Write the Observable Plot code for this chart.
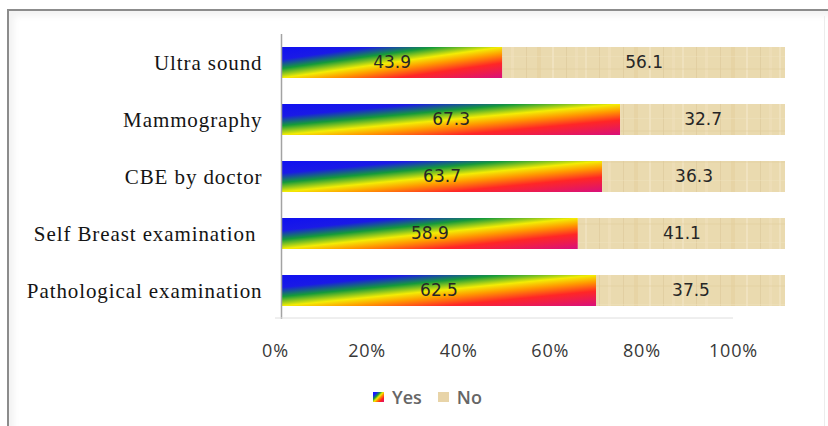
<!DOCTYPE html>
<html>
<head>
<meta charset="utf-8">
<script src="https://cdn.jsdelivr.net/npm/d3@7"></script>
<script src="https://cdn.jsdelivr.net/npm/@observablehq/plot@0.6"></script>
<style>
  body { margin: 0; background: #fff; }
  #chart { position: relative; width: 828px; height: 426px; overflow: hidden; background: #fff; }
  #chart > svg { position: absolute; left: 0; overflow: visible; }
  #main { top: 0; }
  #scale { top: 317px; }
  #main [aria-label="y-axis tick label"] text {
    font-family: "Liberation Serif", "Times New Roman", serif;
    font-size: 21px; letter-spacing: 0.9px; fill: #141414; white-space: pre;
  }
  #scale [aria-label="x-axis tick label"] text {
    font-family: "Open Sans", sans-serif; font-size: 18px; letter-spacing: 0.8px; fill: #383838;
  }
  .frame { position: absolute; left: 7px; top: 9px; width: 840px; height: 440px;
    border-left: 2px solid #8c8c8c; border-top: 2px solid #8c8c8c;
    box-shadow: inset 5px 5px 6px rgba(0,0,0,0.05); pointer-events: none; }
  .edge { position: absolute; left: 824px; top: 16px; width: 1px; height: 410px; background: #ececec; }
  .legend { position: absolute; top: 385px; left: 373px; display: flex; align-items: center;
    font: 600 18px "Open Sans", sans-serif; color: #666; }
  .legend span.sw { display: inline-block; width: 11px; height: 10px; margin-right: 8px; }
  .legend span.item { display: inline-flex; align-items: center; margin-right: 16px; }
</style>
</head>
<body>
<div id="chart">
  <div class="frame"></div>
  <div class="edge"></div>
  <div class="legend">
    <span class="item"><span class="sw" style="background:linear-gradient(135deg,#1a1aff 0%,#1a1aff 20%,#1a9a3a 36%,#f5ee00 50%,#ff8a00 62%,#ff2020 78%,#d8107a 100%)"></span>Yes</span>
    <span class="item"><span class="sw" style="background:#e8d4a8"></span>No</span>
  </div>
</div>
<script>
// Screening method uptake (% of respondents answering Yes / No)
const categories = ["Ultra sound", "Mammography", "CBE by doctor", "Self Breast examination ", "Pathological examination"];
const yes = [43.9, 67.3, 63.7, 58.9, 62.5];
const no = [56.1, 32.7, 36.3, 41.1, 37.5];
const answers = ["Yes", "No"];
const ticks = [0, 20, 40, 60, 80, 100];

const rows = categories.flatMap((category, i) => [
  {category, answer: "Yes", pct: yes[i]},
  {category, answer: "No", pct: no[i]}
]);

// Rainbow gradient for "Yes" bars and a parchment texture for "No" bars
function paints() {
  const ns = "http://www.w3.org/2000/svg";
  const defs = document.createElementNS(ns, "defs");
  defs.innerHTML = `
    <linearGradient id="rainbow" x1="0" y1="0" x2="1" y2="1">
      <stop offset="0" stop-color="#1010f0"/>
      <stop offset="0.2" stop-color="#1a1ae6"/>
      <stop offset="0.35" stop-color="#159a3a"/>
      <stop offset="0.5" stop-color="#f3ec05"/>
      <stop offset="0.61" stop-color="#ff9a00"/>
      <stop offset="0.76" stop-color="#ff2626"/>
      <stop offset="1" stop-color="#d8107c"/>
    </linearGradient>
    <pattern id="papyrus" patternUnits="userSpaceOnUse" width="97" height="31" y="16">
      <rect width="97" height="31" fill="#eadaaf"/>
      <rect x="3" width="2" height="31" fill="#f2e5c4" opacity="0.7"/>
      <rect x="17" width="1" height="31" fill="#d9c496" opacity="0.5"/>
      <rect x="26" width="3" height="31" fill="#f0e1bd" opacity="0.6"/>
      <rect x="41" width="1" height="31" fill="#d6bf8e" opacity="0.4"/>
      <rect x="52" width="4" height="31" fill="#e4d09f" opacity="0.6"/>
      <rect x="67" width="2" height="31" fill="#f3e7c9" opacity="0.6"/>
      <rect x="81" width="1" height="31" fill="#d8c292" opacity="0.45"/>
      <rect x="90" width="3" height="31" fill="#efdfba" opacity="0.6"/>
      <rect y="9" width="97" height="1" fill="#f1e3c0" opacity="0.4"/>
      <rect y="21" width="97" height="2" fill="#e2cd9c" opacity="0.3"/>
    </pattern>`;
  return defs;
}

const main = Plot.plot({
  width: 828,
  height: 322,
  marginLeft: 281,
  marginRight: 43,
  marginTop: 34,
  marginBottom: 3,
  x: {domain: [0, 100], axis: null},
  y: {domain: categories, paddingInner: 0.46, paddingOuter: 0.23, axis: null},
  color: {domain: answers, range: ["url(#rainbow)", "url(#papyrus)"]},
  marks: [
    paints,
    Plot.barX(rows, Plot.stackX({x: "pct", y: "category", fill: "answer"})),
    Plot.ruleX([0], {stroke: "#a3a3a3", strokeWidth: 1.5}),
    Plot.text(rows, Plot.stackX({
      x: "pct", y: "category", text: d => d.pct.toFixed(1),
      fontFamily: "DejaVu Sans", fontSize: 17, fill: "#262626"
    })),
    Plot.axisY({tickSize: 0, tickPadding: 19, label: null})
  ]
});
main.id = "main";

// Percent scale beneath the bars
const scale = Plot.plot({
  width: 828,
  height: 50,
  marginLeft: 275,
  marginRight: 95,
  marginTop: 0,
  marginBottom: 49,
  x: {domain: [0, 100]},
  y: {axis: null},
  marks: [
    Plot.ruleY([0], {stroke: "#dedede"}),
    Plot.axisX(ticks, {tickSize: 0, tickPadding: 26, tickFormat: d => d + "%", label: null})
  ]
});
scale.id = "scale";

const chart = document.getElementById("chart");
chart.insertBefore(scale, chart.firstChild);
chart.insertBefore(main, chart.firstChild);
</script>
</body>
</html>
